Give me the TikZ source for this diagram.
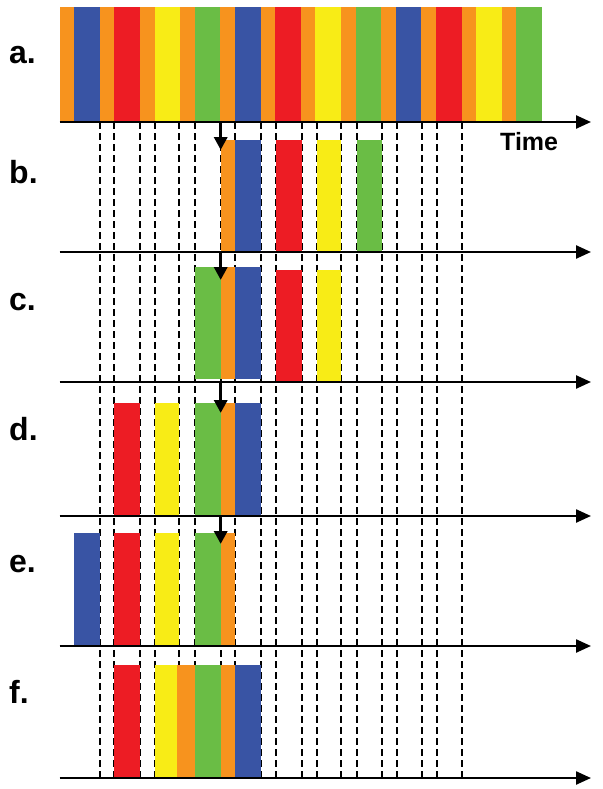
\documentclass[tikz,border=0pt]{standalone}
\usepackage{fontspec}
\setmainfont{Liberation Sans}
\usetikzlibrary{arrows.meta}
\definecolor{stripeorange}{RGB}{247,147,30}
\definecolor{stripeblue}{RGB}{57,84,164}
\definecolor{stripered}{RGB}{237,28,36}
\definecolor{stripeyellow}{RGB}{248,236,22}
\definecolor{stripegreen}{RGB}{106,189,69}
\tikzset{
  axisline/.style={line width=2.4pt,-{Triangle[length=15pt,width=13pt]}},
  gridline/.style={line width=2pt,dash pattern=on 7pt off 4pt},
  shiftarrow/.style={line width=3.4pt,-{Triangle[length=13pt,width=13pt]}},
  rowlabel/.style={font=\bfseries\fontsize{32}{32}\selectfont,anchor=base west,inner sep=0pt},
}

\begin{document}
\begin{tikzpicture}[x=1pt,y=-1pt]
\useasboundingbox (0,0) rectangle (602,789);
% dashed guide lines
\foreach \x in {99.8,114.4,140.1,154.7,179.3,194.6,220.7,235.3,261.0,275.6,302.1,316.7,341.3,357.0,382.0,396.5,422.3,436.8,461.8}{
  \draw[gridline] (\x,122) -- (\x,778);
}
% row a: full stream
\foreach \i/\col in {0/blue,1/red,2/yellow,3/green,4/blue,5/red,6/yellow,7/green,8/blue,9/red,10/yellow,11/green}{
  \fill[stripeorange] ({59.5+40.2*\i},7.5) rectangle ++(14.6,114.5);
  \fill[stripe\col] ({74.1+40.2*\i},7.5) rectangle ++(25.6,114.5);
}
% rows b-f
\foreach \xa/\xb/\ya/\yb/\col in {
  220.7/235.3/140/252/orange, 235.3/261.0/140/252/blue, 275.6/302.1/140/252/red,
  316.7/341.3/140/252/yellow, 357.0/382.0/140/252/green,
  194.6/220.7/267/379/green, 220.7/235.3/267/379/orange, 235.3/261.0/267/379/blue,
  275.6/302.1/270/382/red, 316.7/341.3/270/382/yellow,
  114.4/140.1/403/516/red, 154.7/179.3/403/516/yellow, 194.6/220.7/403/516/green,
  220.7/235.3/403/516/orange, 235.3/261.0/403/516/blue,
  74.1/99.8/533/646/blue, 114.4/140.1/533/646/red, 154.7/179.3/533/646/yellow,
  194.6/220.7/533/646/green, 220.7/235.3/533/646/orange,
  114.4/140.1/665/778/red, 154.7/177.0/665/778/yellow, 177.0/194.6/665/778/orange,
  194.6/220.7/665/778/green, 220.7/235.3/665/778/orange, 235.3/261.0/665/778/blue}{
  \fill[stripe\col] (\xa,\ya) rectangle (\xb,\yb);
}
% time axes and labels
\foreach \r/\y/\ly in {a/122/64,b/252/183,c/382/310,d/516/440,e/646/572,f/778/703}{
  \coordinate (\r start) at (59.5,\y);
  \coordinate (\r end) at (591,\y);
  \draw[axisline] (\r start) -- (\r end);
  \node[rowlabel] (\r lab) at (9,\ly) {\r.};
}
\node[font=\bfseries\fontsize{25}{25}\selectfont,anchor=base west,inner sep=0pt] (time) at (500,150) {Time};
% shift arrows
\foreach \r/\y/\t in {a/122/150,b/252/280,c/382/413,d/516/544}{
  \coordinate (\r from) at (220.7,\y);
  \coordinate (\r to) at (220.7,\t);
  \draw[shiftarrow] (\r from) -- (\r to);
}
\end{tikzpicture}
\end{document}
